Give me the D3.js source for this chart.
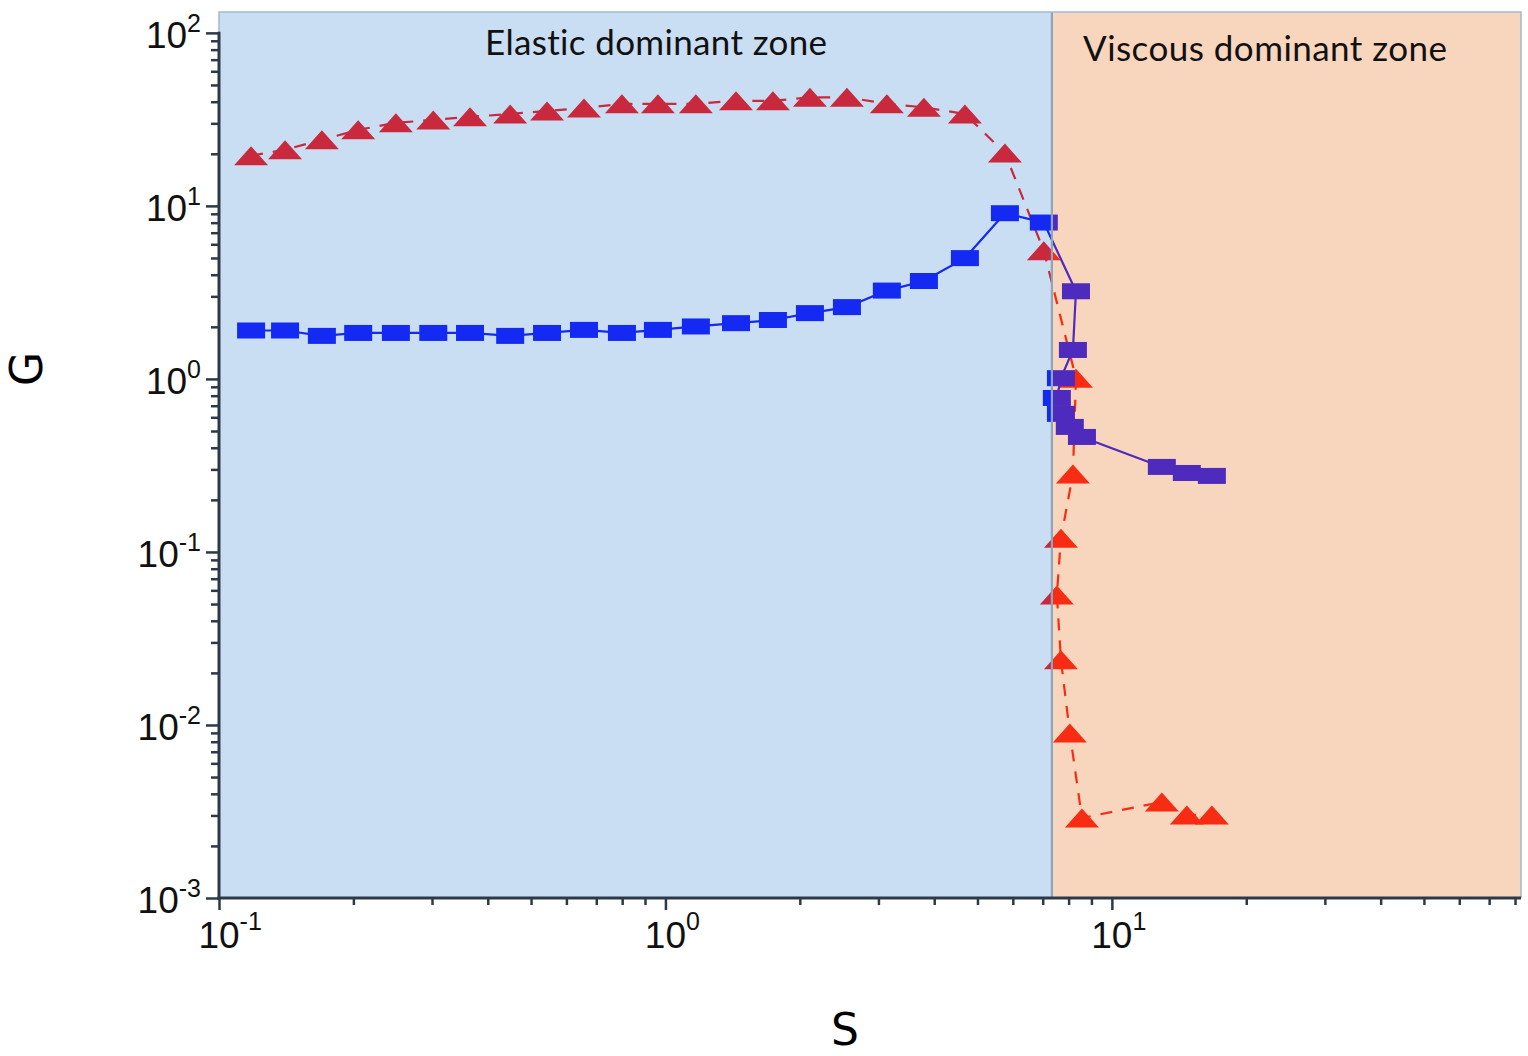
<!DOCTYPE html>
<html><head><meta charset="utf-8">
<script src="https://cdn.jsdelivr.net/npm/d3@7"></script>
<style>html,body{margin:0;padding:0;background:#fff;} svg{display:block} text{font-variant-ligatures:none;font-feature-settings:"liga" 0;}</style>
</head><body><svg id="chart" width="1528" height="1056"></svg>
<script>
// ---------------- data ----------------
const shearStress = [0.118, 0.1406, 0.170, 0.205, 0.249, 0.302, 0.365, 0.449, 0.543, 0.657,
  0.799, 0.962, 1.170, 1.439, 1.741, 2.107, 2.550, 3.133, 3.793, 4.686,
  5.76, 7.04, 8.31, 8.18, 7.69, 7.53, 7.69, 8.05, 8.57, 12.94, 14.72, 16.75];
const storageModulus = [19.5, 21.1, 24.1, 27.5, 30.2, 31.4, 32.7, 34.0, 35.4, 36.8,
  38.9, 38.9, 38.9, 40.5, 40.5, 42.4, 42.4, 38.9, 37.1, 34.0,
  20.2, 5.50, 1.01, 0.282, 0.120, 0.0564, 0.0238, 0.0090, 0.0029, 0.00359, 0.00302, 0.00302];
const lossModulus = [1.905, 1.905, 1.773, 1.844, 1.844, 1.844, 1.844, 1.773, 1.844, 1.92,
  1.844, 1.92, 2.01, 2.10, 2.19, 2.40, 2.60, 3.24, 3.68, 4.99,
  9.07, 8.01, 3.21, 1.47, 1.01, 0.776, 0.628, 0.528, 0.462, 0.310, 0.286, 0.275];
const zoneBoundary = 7.34;
const zoneLabels = ["Elastic dominant zone", "Viscous dominant zone"];
const xMajorTicks = [0.1, 1, 10];
const xTickExponents = ["-1", "0", "1"];
const yMajorTicks = [1e-3, 1e-2, 1e-1, 1, 10, 100];
const yTickExponents = ["-3", "-2", "-1", "0", "1", "2"];
const xTitle = "S";
const yTitle = "G";

// ---------------- chart ----------------
(function () {
const svg = d3.select("#chart");
const pL = 219, pR = 1521, pT = 12, pB = 898;
const x = d3.scaleLog().domain([0.1, 82.5]).range([pL, pR]);
const y = d3.scaleLog().domain([1e-3, 132]).range([pB, pT]);

const redPts = shearStress.map((s, i) => [s, storageModulus[i]]);
const bluePts = shearStress.map((s, i) => [s, lossModulus[i]]);
const line = d3.line().x(d => x(d[0])).y(d => y(d[1]));

const plot = svg.append("g");
// red series (dashed line + triangles)
plot.append("path").attr("d", line(redPts)).attr("fill", "none")
  .attr("stroke", "#ff0000").attr("stroke-width", 2.2).attr("stroke-dasharray", "12,10");
plot.selectAll(".tri").data(redPts).join("path")
  .attr("transform", d => `translate(${x(d[0])},${y(d[1])})`)
  .attr("d", "M0,-9.5L17,9.5L-17,9.5Z").attr("fill", "#ff0000");
// blue series (solid line + squares)
plot.append("path").attr("d", line(bluePts)).attr("fill", "none")
  .attr("stroke", "#0000ff").attr("stroke-width", 2.2);
plot.selectAll(".sq").data(bluePts).join("rect")
  .attr("x", d => x(d[0]) - 14).attr("y", d => y(d[1]) - 8)
  .attr("width", 28).attr("height", 16).attr("fill", "#0000ff");

// translucent zone overlays
const xb = x(zoneBoundary);
svg.append("rect").attr("x", pL).attr("y", pT).attr("width", xb - pL).attr("height", pB - pT)
  .attr("fill", "rgb(69,141,210)").attr("fill-opacity", 0.29);
svg.append("rect").attr("x", xb).attr("y", pT).attr("width", pR - xb).attr("height", pB - pT)
  .attr("fill", "rgb(234,129,57)").attr("fill-opacity", 0.333);
svg.append("line").attr("x1", xb).attr("x2", xb).attr("y1", pT).attr("y2", pB)
  .attr("stroke", "#8ea5bc").attr("stroke-width", 2.2);

// frame
svg.append("path").attr("d", `M${pL},${y(100)}V${pT}H${pR}V${pB}`)
  .attr("fill", "none").attr("stroke", "#a6bbd0").attr("stroke-width", 1.6);

const axisColor = "#2c3a48";
// y axis
const yMinor = y.ticks().filter(v => !yMajorTicks.some(m => Math.abs(m - v) / m < 1e-6) && v <= 100);
const yAx = svg.append("g").attr("transform", `translate(${pL},0)`);
yAx.append("g").call(d3.axisLeft(y).tickValues(yMinor).tickSize(8).tickSizeOuter(0).tickFormat(""));
yAx.append("g").call(d3.axisLeft(y).tickValues(yMajorTicks).tickSize(13).tickSizeOuter(0).tickFormat(""));
yAx.selectAll(".domain").remove();
yAx.selectAll("line").attr("stroke", axisColor).attr("stroke-width", 2.5);
svg.append("line").attr("x1", pL).attr("x2", pL).attr("y1", y(100) - 1).attr("y2", pB + 1.5)
  .attr("stroke", axisColor).attr("stroke-width", 3);

// x axis
const xMinor = x.ticks().filter(v => !xMajorTicks.some(m => Math.abs(m - v) / m < 1e-6));
const xAx = svg.append("g").attr("transform", `translate(0,${pB})`);
xAx.append("g").call(d3.axisBottom(x).tickValues(xMinor).tickSize(7).tickSizeOuter(0).tickFormat(""));
xAx.append("g").call(d3.axisBottom(x).tickValues(xMajorTicks).tickSize(12).tickSizeOuter(0).tickFormat(""));
xAx.selectAll(".domain").remove();
xAx.selectAll("line").attr("stroke", axisColor).attr("stroke-width", 2.5);
svg.append("line").attr("x1", pL - 1.5).attr("x2", pR).attr("y1", pB).attr("y2", pB)
  .attr("stroke", axisColor).attr("stroke-width", 3);

const tickFont = "'Liberation Sans', Arial, sans-serif";
// y tick labels
yMajorTicks.forEach((v, i) => {
  const t = svg.append("text").attr("x", 201).attr("y", y(v) + 15).attr("text-anchor", "end")
    .attr("font-family", tickFont).attr("font-size", 37).attr("fill", "#111");
  t.append("tspan").text("10");
  t.append("tspan").attr("dy", -16).attr("font-size", 25).text(yTickExponents[i]);
});
// x tick labels
xMajorTicks.forEach((v, i) => {
  const t = svg.append("text").attr("x", x(v)).attr("y", 948)
    .attr("font-family", tickFont).attr("font-size", 37).attr("fill", "#111");
  const base = t.append("tspan").text("10");
  t.append("tspan").attr("dy", -18).attr("font-size", 25).text(xTickExponents[i]);
  const w = base.node().getComputedTextLength();
  t.attr("x", x(v) - w / 2);
});

// zone labels
svg.append("text").attr("x", 485).attr("y", 55).attr("font-family", "Lato, 'Open Sans', sans-serif")
  .attr("font-size", 35).attr("fill", "#111").attr("textLength", 342).text(zoneLabels[0]);
svg.append("text").attr("x", 1083).attr("y", 61).attr("font-family", "Lato, 'Open Sans', sans-serif")
  .attr("font-size", 35).attr("fill", "#111").attr("textLength", 364).text(zoneLabels[1]);

// axis titles
svg.append("text").attr("x", 845).attr("y", 1045).attr("text-anchor", "middle")
  .attr("font-family", "'DejaVu Sans', sans-serif").attr("font-size", 44).attr("fill", "#000").text(xTitle);
svg.append("text").attr("transform", "translate(42,369) rotate(-90)").attr("text-anchor", "middle")
  .attr("font-family", "'DejaVu Sans', sans-serif").attr("font-size", 44).attr("fill", "#000").text(yTitle);
})();
</script>
</body></html>
